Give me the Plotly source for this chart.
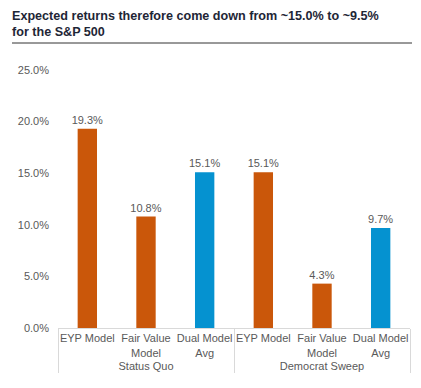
import plotly.graph_objects as go

groups = ["Status Quo", "Status Quo", "Status Quo",
          "Democrat Sweep", "Democrat Sweep", "Democrat Sweep"]
models = ["EYP Model", "Fair Value<br>Model", "Dual Model<br>Avg",
          "EYP Model", "Fair Value<br>Model", "Dual Model<br>Avg"]
returns = [19.3, 10.8, 15.1, 15.1, 4.3, 9.7]
y_ticks = [0, 5, 10, 15, 20, 25]

ORANGE = "#CA570A"
BLUE = "#0592D0"
colors = [BLUE if m.startswith("Dual") else ORANGE for m in models]

fig = go.Figure(go.Bar(
    x=[groups, models],
    y=returns,
    marker=dict(color=colors, line=dict(width=0)),
    texttemplate="%{y:.1f}%",
    textposition="outside",
    constraintext="none",
    textfont=dict(family="Liberation Sans, Arial", size=11, color="#595959"),
    cliponaxis=False,
))

# page body adds an 8px margin, so the figure is 8px smaller each way
fig.update_layout(
    width=413, height=380,
    margin=dict(l=50, r=11, t=62, b=60),
    paper_bgcolor="white", plot_bgcolor="white",
    bargap=0.67,
    showlegend=False,
    font=dict(family="Liberation Sans, Arial", size=11, color="#595959"),
    annotations=[dict(
        text="<b>Expected returns therefore come down from ~15.0% to ~9.5%<br>for the S&P 500</b>",
        xref="paper", yref="paper", x=-47/352, y=1 + 62/258,
        xanchor="left", yanchor="top", showarrow=False, align="left",
        borderpad=0,
        font=dict(family="Liberation Sans, Arial", size=12.6, color="#1E2636"),
    )],
    shapes=[dict(
        type="line", xref="paper", yref="paper",
        x0=-46/352, x1=354/352, y0=1 + 27/258, y1=1 + 27/258,
        line=dict(color="#333333", width=1),
    )],
)

fig.update_yaxes(
    range=[0, 25], tickvals=y_ticks, ticktext=[f"{v:.1f}%" for v in y_ticks],
    showgrid=False, zeroline=False, showline=False,
    tickfont=dict(size=11, color="#595959"), ticks="",
    ticklabelstandoff=8,
    automargin=False,
)
fig.update_xaxes(
    type="multicategory", showline=True, linecolor="#D9D9D9", linewidth=1,
    showdividers=True, dividercolor="#D9D9D9", dividerwidth=1,
    tickfont=dict(size=11, color="#595959"), ticks="", tickangle=0,
    automargin=False,
)

fig.write_html("out.html")
